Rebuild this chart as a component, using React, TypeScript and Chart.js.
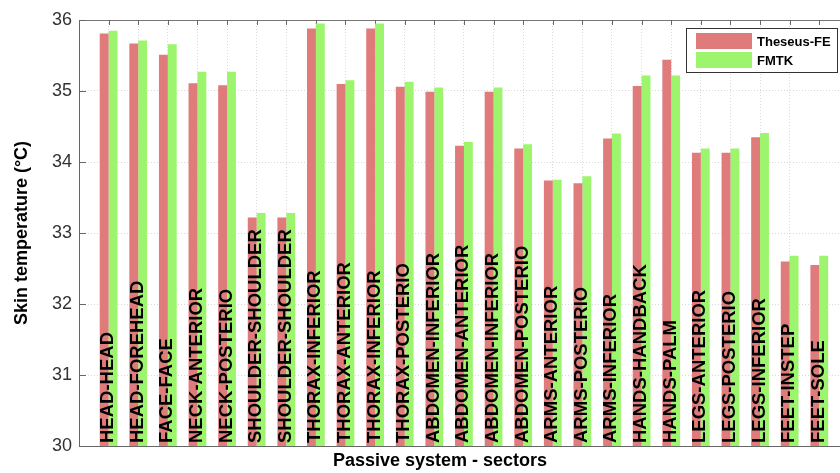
import React, { useEffect, useRef } from "react";
import { Chart, registerables } from "chart.js";

Chart.register(...registerables);

const sectors = [
  "HEAD-HEAD", "HEAD-FOREHEAD", "FACE-FACE", "NECK-ANTERIOR", "NECK-POSTERIO",
  "SHOULDER-SHOULDER", "SHOULDER-SHOULDER", "THORAX-INFERIOR", "THORAX-ANTERIOR",
  "THORAX-INFERIOR", "THORAX-POSTERIO", "ABDOMEN-INFERIOR", "ABDOMEN-ANTERIOR",
  "ABDOMEN-INFERIOR", "ABDOMEN-POSTERIO", "ARMS-ANTERIOR", "ARMS-POSTERIO",
  "ARMS-INFERIOR", "HANDS-HANDBACK", "HANDS-PALM", "LEGS-ANTERIOR", "LEGS-POSTERIO",
  "LEGS-INFERIOR", "FEET-INSTEP", "FEET-SOLE",
];

const theseusFE = [
  35.81, 35.67, 35.51, 35.11, 35.08, 33.22, 33.22, 35.88, 35.10, 35.88, 35.06,
  34.99, 34.23, 34.99, 34.19, 33.74, 33.70, 34.33, 35.07, 35.44, 34.13, 34.13,
  34.35, 32.60, 32.55,
];

const fmtk = [
  35.85, 35.71, 35.66, 35.27, 35.27, 33.28, 33.28, 35.95, 35.15, 35.95, 35.13,
  35.05, 34.28, 35.05, 34.25, 33.75, 33.80, 34.40, 35.22, 35.22, 34.19, 34.19,
  34.41, 32.68, 32.68,
];

const seriesNames = ["Theseus-FE", "FMTK"];
const seriesColors = ["#e07b7b", "#9cf56c"];
const yTicks = [30, 31, 32, 33, 34, 35, 36];
const yTitle = "Skin temperature (°C)";
const xTitle = "Passive system - sectors";

const FONT = "'Liberation Sans', Arial, sans-serif";

const decorPlugin = {
  id: "decor",
  beforeDatasetsDraw(chart: any) {
    const { ctx, chartArea, scales } = chart;
    const xs = scales.x;
    const ys = scales.y;
    ctx.save();
    ctx.strokeStyle = "#777";
    ctx.lineWidth = 1;
    // top border
    ctx.beginPath();
    ctx.moveTo(chartArea.left, chartArea.top + 0.5);
    ctx.lineTo(chartArea.right, chartArea.top + 0.5);
    ctx.stroke();
    // top tick marks
    ctx.strokeStyle = "#666";
    for (let i = 0; i < sectors.length; i++) {
      const px = Math.round(xs.getPixelForValue(i + 1)) + 0.5;
      ctx.beginPath();
      ctx.moveTo(px, chartArea.top);
      ctx.lineTo(px, chartArea.top + 5);
      ctx.stroke();
    }
    // left inward ticks
    for (const t of yTicks) {
      const py = Math.round(ys.getPixelForValue(t)) + 0.5;
      ctx.beginPath();
      ctx.moveTo(chartArea.left, py);
      ctx.lineTo(chartArea.left + 7, py);
      ctx.stroke();
    }
    ctx.restore();
  },
  afterDatasetsDraw(chart: any) {
    const { ctx, chartArea, scales } = chart;
    const xs = scales.x;
    ctx.save();
    // axis lines
    ctx.strokeStyle = "#666";
    ctx.lineWidth = 1;
    ctx.beginPath();
    ctx.moveTo(chartArea.left + 0.5, chartArea.top);
    ctx.lineTo(chartArea.left + 0.5, chartArea.bottom + 0.5);
    ctx.lineTo(chartArea.right, chartArea.bottom + 0.5);
    ctx.stroke();
    // labels in bars
    ctx.fillStyle = "#000";
    ctx.font = `bold 18.5px ${FONT}`;
    ctx.textAlign = "left";
    ctx.textBaseline = "alphabetic";
    for (let i = 0; i < sectors.length; i++) {
      const px = xs.getPixelForValue(i + 1) + 4.5;
      ctx.save();
      ctx.translate(px, chartArea.bottom - 3);
      ctx.rotate(-Math.PI / 2);
      ctx.fillText(sectors[i], 0, 0);
      ctx.restore();
    }
    // legend
    const lx = 686, ly = 28, lw = 151, lh = 44;
    ctx.fillStyle = "#fff";
    ctx.fillRect(lx, ly, lw, lh);
    ctx.strokeStyle = "#333";
    ctx.lineWidth = 1;
    ctx.strokeRect(lx + 0.5, ly + 0.5, lw, lh);
    ctx.font = `bold 13px ${FONT}`;
    ctx.textBaseline = "middle";
    ctx.textAlign = "left";
    for (let k = 0; k < 2; k++) {
      const cy = 41 + k * 19;
      ctx.fillStyle = seriesColors[k];
      ctx.fillRect(696, cy - 8, 56, 16);
      ctx.fillStyle = "#000";
      ctx.fillText(seriesNames[k], 757, cy + 1);
    }
    // axis titles
    ctx.fillStyle = "#000";
    ctx.font = `bold 18px ${FONT}`;
    ctx.textAlign = "center";
    ctx.textBaseline = "alphabetic";
    ctx.fillText(xTitle, 440, 466);
    ctx.save();
    ctx.translate(27, (chartArea.top + chartArea.bottom) / 2);
    ctx.rotate(-Math.PI / 2);
    ctx.fillText(yTitle, 0, 0);
    ctx.restore();
    ctx.restore();
  },
};

export default function App() {
  const ref = useRef<HTMLCanvasElement | null>(null);
  useEffect(() => {
    if (!ref.current) return;
    const chart = new Chart(ref.current, {
      type: "bar",
      data: {
        datasets: [
          {
            label: seriesNames[0],
            data: theseusFE.map((v, i) => ({ x: i + 1, y: v })),
            backgroundColor: seriesColors[0],
            borderWidth: 0,
            categoryPercentage: 0.6,
            barPercentage: 1,
          },
          {
            label: seriesNames[1],
            data: fmtk.map((v, i) => ({ x: i + 1, y: v })),
            backgroundColor: seriesColors[1],
            borderWidth: 0,
            categoryPercentage: 0.6,
            barPercentage: 1,
          },
        ],
      },
      options: {
        animation: false,
        responsive: false,
        layout: { padding: { top: 20, bottom: 27, left: 0, right: 0 } },
        plugins: { legend: { display: false }, tooltip: { enabled: false } },
        scales: {
          x: {
            type: "linear",
            offset: false,
            min: 0,
            max: 25.7,
            afterFit: (s: any) => { s.height = 0; },
            ticks: { display: false, stepSize: 1 },
            grid: { color: "#d9d9d9", drawTicks: false, lineWidth: 1, offset: false },
            border: { display: false, dash: [1, 2] },
          },
          y: {
            min: 30,
            max: 36,
            afterFit: (s: any) => { s.width = 79; },
            ticks: {
              stepSize: 1,
              padding: 7,
              color: "#333",
              font: { family: FONT, size: 18 },
            },
            grid: { color: "#d9d9d9", drawTicks: false, lineWidth: 1 },
            border: { display: false, dash: [1, 2] },
          },
        },
      },
      plugins: [decorPlugin],
    });
    return () => chart.destroy();
  }, []);
  return (
    <div style={{ position: "absolute", left: 0, top: 0, width: 840, height: 473, background: "#fff" }}>
      <canvas ref={ref} width={840} height={473} style={{ width: 840, height: 473 }} />
    </div>
  );
}
